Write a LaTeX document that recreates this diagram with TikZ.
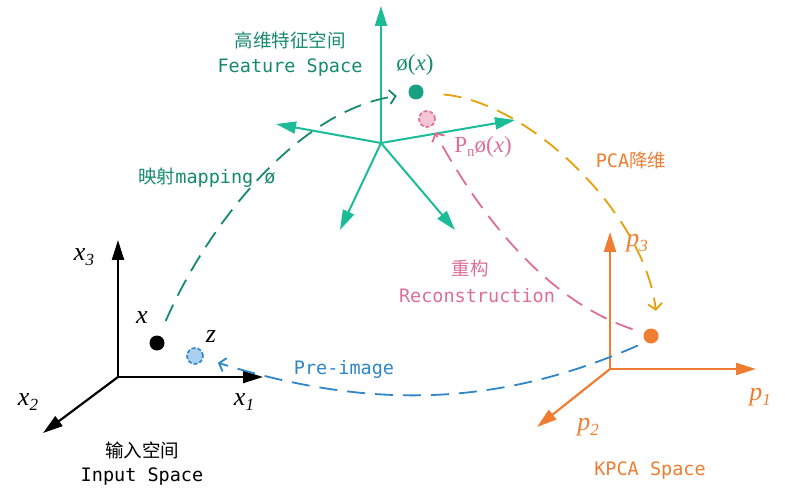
\documentclass[tikz,border=0pt]{standalone}
\usepackage{fontspec}
\setmonofont{DejaVu Sans Mono}
\newfontfamily\cjk{Noto Sans CJK SC}
\newfontfamily\lab{Liberation Serif}
\usetikzlibrary{arrows.meta}
\definecolor{featgreen}{RGB}{28,188,152}
\definecolor{darkteal}{RGB}{22,138,110}
\definecolor{phigreen}{RGB}{23,160,130}
\definecolor{pinkc}{RGB}{222,110,150}
\definecolor{pinkfill}{RGB}{245,198,214}
\definecolor{goldc}{RGB}{230,160,10}
\definecolor{orangec}{RGB}{238,125,49}
\definecolor{bluec}{RGB}{46,134,200}
\definecolor{bluefill}{RGB}{170,208,240}
\newcommand{\vx}[2]{\textit{#1}\raisebox{-5pt}{\fontsize{17}{17}\selectfont\textit{#2}}}
\begin{document}
\begin{tikzpicture}[x=1pt, y=-1pt, line join=round, >={Triangle[length=20pt,width=12pt]},
	axis/.style={->, line width=2.2pt},
	dashcurve/.style={line width=1.8pt, dash pattern=on 18pt off 10pt, -{Straight Barb[length=6pt,width=14pt]}},
	dot/.style={circle, inner sep=0pt, minimum size=15pt},
	ring/.style={circle, draw, inner sep=0pt, minimum size=16pt, line width=1.6pt, dash pattern=on 4pt off 2pt},
	mono/.style={font=\fontsize{18.5}{22}\selectfont\ttfamily},
	han/.style={font=\fontsize{18.5}{22}\selectfont\cjk},
	sym/.style={font=\fontsize{23}{26}\selectfont\lab},
	axlab/.style={font=\fontsize{26}{28}\selectfont\lab}]
	\useasboundingbox (0,0) rectangle (800,494);
	% input space
	\coordinate (io) at (118,377);
	\draw[axis] (io)--(118,240);
	\draw[axis] (io)--(263,377);
	\draw[axis] (io)--(43,433);
	\node[axlab] at (84,257) {\vx{x}{3}};
	\node[axlab] at (244,402) {\vx{x}{1}};
	\node[axlab] at (28,402) {\vx{x}{2}};
	\node[dot, fill=black] (xdot) at (157,343) {};
	\node[ring, draw=bluec, fill=bluefill] (zdot) at (195,356) {};
	\node[axlab] at (142,318) {\textit{x}};
	\node[axlab] at (211,337) {\textit{z}};
	\node[han] at (142,450) {输入空间};
	\node[mono] at (142,477) {Input Space};
	% feature space
	\coordinate (fo) at (381,143);
	\foreach \p in {(381,6),(276,124),(515,120),(340,230),(455,230)}
		\draw[axis, featgreen, line width=2pt] (fo)--\p;
	\node[han, text=darkteal] at (290,40) {高维特征空间};
	\node[mono, text=darkteal] at (290,68) {Feature Space};
	\node[dot, fill=phigreen] (phidot) at (416,92) {};
	\node[ring, draw=pinkc, fill=pinkfill] (pdot) at (427,119) {};
	\node[sym, text=darkteal] at (415,65) {ø(\textit{x})};
	\node[sym, text=pinkc] at (483,147) {P\raisebox{-4pt}{\fontsize{15}{15}\selectfont n}ø(\textit{x})};
	% KPCA space
	\coordinate (ko) at (610,369);
	\draw[axis, orangec] (ko)--(610,232);
	\draw[axis, orangec] (ko)--(756,369);
	\draw[axis, orangec] (ko)--(537,427);
	\node[axlab, text=orangec] at (637,243) {\vx{p}{3}};
	\node[axlab, text=orangec] at (760,397) {\vx{p}{1}};
	\node[axlab, text=orangec] at (588,427) {\vx{p}{2}};
	\node[dot, fill=orangec] (kdot) at (651,336) {};
	\node[mono, text=orangec] at (650,471) {KPCA Space};
	% mappings
	\draw[dashcurve, darkteal, shorten <=16pt, shorten >=12pt] (xdot.73) .. controls (210,220) and (300,110) .. (phidot.197);
	\draw[dashcurve, goldc, shorten <=20pt, shorten >=24pt] (phidot.-6) .. controls (530,102) and (645,215) .. (kdot.10);
	\draw[dashcurve, pinkc, shorten <=12pt, shorten >=7pt] (kdot.157) .. controls (545,300) and (480,215) .. (pdot.-58);
	\draw[dashcurve, bluec, shorten <=9pt, shorten >=15pt] (kdot.230) .. controls (498,407) and (370,410) .. (zdot.-15);
	\node[mono, text=darkteal] at (207,178) {{\cjk 映射}mapping ø};
	\node[mono, text=orangec] at (631,160) {PCA{\cjk 降维}};
	\node[han, text=pinkc] at (470,268) {重构};
	\node[mono, text=pinkc] at (477,296) {Reconstruction};
	\node[mono, text=bluec] at (344,369) {Pre-image};
\end{tikzpicture}
\end{document}
